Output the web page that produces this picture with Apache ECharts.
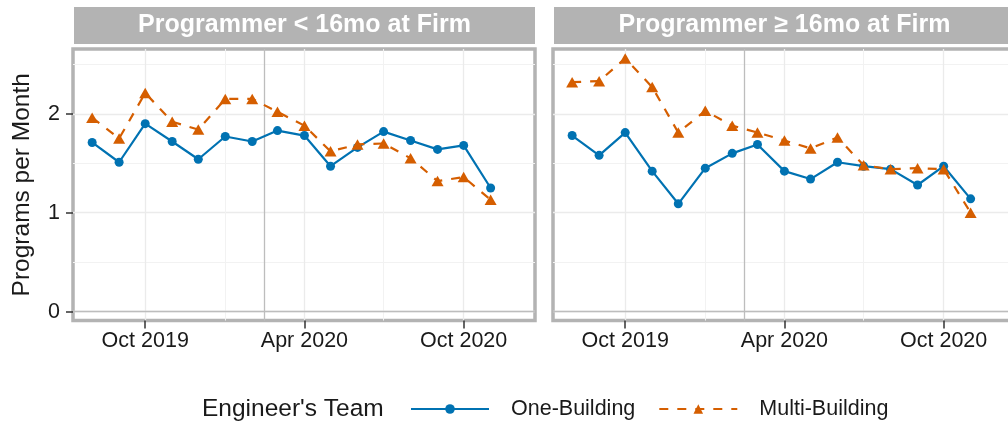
<!DOCTYPE html>
<html>
<head>
<meta charset="utf-8">
<script src="https://cdn.jsdelivr.net/npm/echarts@6/dist/echarts.min.js"></script>
<style>
  html, body { margin: 0; padding: 0; background: #fff; overflow: hidden; }
  /* the right facet runs past the 1008px frame, as in the cropped original */
  #chart { width: 1030px; height: 424px; }
</style>
</head>
<body>
<div id="chart"></div>
<script>
// monthly observations, first of each month
const months = ['2019-08', '2019-09', '2019-10', '2019-11', '2019-12', '2020-01', '2020-02', '2020-03',
                '2020-04', '2020-05', '2020-06', '2020-07', '2020-08', '2020-09', '2020-10', '2020-11'];

const panelTitles = ['Programmer < 16mo at Firm', 'Programmer \u2265 16mo at Firm'];

// Programmer < 16mo
const oneBuildingShort   = [1.71, 1.51, 1.90, 1.72, 1.54, 1.77, 1.72, 1.83, 1.78, 1.47, 1.66, 1.82, 1.73, 1.64, 1.68, 1.25];
const multiBuildingShort = [1.96, 1.75, 2.21, 1.92, 1.84, 2.15, 2.15, 2.02, 1.88, 1.62, 1.69, 1.70, 1.55, 1.32, 1.36, 1.13];
// Programmer >= 16mo
const oneBuildingLong    = [1.78, 1.58, 1.81, 1.42, 1.09, 1.45, 1.60, 1.69, 1.42, 1.34, 1.51, 1.47, 1.44, 1.28, 1.47, 1.14];
const multiBuildingLong  = [2.32, 2.33, 2.56, 2.27, 1.81, 2.03, 1.88, 1.81, 1.73, 1.65, 1.76, 1.48, 1.44, 1.45, 1.44, 1.00];

const xTicks = ['2019-10', '2020-04', '2020-10'];
const xMinorTicks = ['2020-01', '2020-07'];
const yTicks = [0, 1, 2];
const yMinorTicks = [0.5, 1.5, 2.5];
const xRange = ['2019-07-10', '2020-12-22'];
const yRange = [-0.09, 2.655];
const eventDate = '2020-02-15';

const FONT = '"Liberation Sans", Arial, sans-serif';
const BLUE = '#0072B2';
const ORANGE = '#D55E00';
const MONTH_NAMES = ['Jan', 'Feb', 'Mar', 'Apr', 'May', 'Jun', 'Jul', 'Aug', 'Sep', 'Oct', 'Nov', 'Dec'];

const ts = s => {
  const p = s.split('-').map(Number);
  return Date.UTC(p[0], p[1] - 1, p[2] || 1);
};
const fmtMonth = v => {
  const d = new Date(v);
  return MONTH_NAMES[d.getUTCMonth()] + ' ' + d.getUTCFullYear();
};

const chart = echarts.init(document.getElementById('chart'));

const panelLeft = [73, 553];
const grids = panelLeft.map(left => ({
  left: left, top: 49, width: 462, height: 271.5,
  show: true, borderColor: '#B3B3B3', borderWidth: 3.5
}));

const xAxes = [];
const yAxes = [];
panelLeft.forEach((_, i) => {
  // minor gridlines
  xAxes.push({
    type: 'value', gridIndex: i, position: 'bottom', min: ts(xRange[0]), max: ts(xRange[1]),
    axisLine: { show: false, onZero: false },
    axisTick: { show: false, customValues: xMinorTicks.map(ts) },
    axisLabel: { show: false },
    splitLine: { show: true, lineStyle: { color: '#F2F2F2', width: 1 } }
  });
  xAxes.push({
    type: 'value', gridIndex: i, position: 'bottom', min: ts(xRange[0]), max: ts(xRange[1]),
    axisLine: { show: false, onZero: false },
    axisTick: { show: true, customValues: xTicks.map(ts), length: 8, lineStyle: { color: '#333', width: 1.5 } },
    axisLabel: { customValues: xTicks.map(ts), formatter: fmtMonth, margin: 10,
                 fontSize: 21.5, color: '#1a1a1a', fontFamily: FONT },
    splitLine: { show: true, lineStyle: { color: '#EBEBEB', width: 1.3 } }
  });
  yAxes.push({
    type: 'value', gridIndex: i, position: 'left', min: yRange[0], max: yRange[1],
    axisLine: { show: false, onZero: false },
    axisTick: { show: false, customValues: yMinorTicks },
    axisLabel: { show: false },
    splitLine: { show: true, lineStyle: { color: '#F2F2F2', width: 1 } }
  });
  yAxes.push({
    type: 'value', gridIndex: i, position: 'left', min: yRange[0], max: yRange[1],
    axisLine: { show: false, onZero: false },
    axisTick: { show: i === 0, customValues: yTicks, length: 7, lineStyle: { color: '#333', width: 1.5 } },
    axisLabel: { show: i === 0, customValues: yTicks, margin: 13,
                 fontSize: 21.5, color: '#1a1a1a', fontFamily: FONT },
    splitLine: { show: true, lineStyle: { color: '#EBEBEB', width: 1.3 } },
    name: i === 0 ? 'Programs per Month' : '',
    nameLocation: 'middle', nameGap: 38,
    nameTextStyle: { fontSize: 24.5, color: '#1a1a1a', fontFamily: FONT }
  });
});

const refLines = {
  silent: true, symbol: 'none', z: 1,
  label: { show: false },
  lineStyle: { color: '#BDBDBD', width: 1.3, type: 'solid' },
  data: [{ xAxis: ts(eventDate) }, { yAxis: 0 }]
};

const makeSeries = (name, values, panel) => {
  const multi = name === 'Multi-Building';
  return {
    name: name, type: 'line',
    xAxisIndex: panel * 2 + 1, yAxisIndex: panel * 2 + 1,
    data: months.map((m, k) => [ts(m), values[k]]),
    symbol: multi ? 'triangle' : 'circle',
    symbolSize: multi ? [12, 10.5] : 9,
    lineStyle: { color: multi ? ORANGE : BLUE, width: 2.2, type: multi ? [9, 9] : 'solid' },
    itemStyle: { color: multi ? ORANGE : BLUE },
    markLine: multi ? undefined : refLines,
    z: multi ? 3 : 2
  };
};

const graphic = [];
panelLeft.forEach((left, i) => {
  graphic.push({ type: 'rect', shape: { x: left + 1, y: 7, width: 461, height: 37 }, style: { fill: '#B3B3B3' } });
  graphic.push({ type: 'text', x: left + 231.5, y: 25.5,
    style: { text: panelTitles[i], fill: '#fff', fontSize: 25, fontWeight: 'bold', fontFamily: FONT,
             align: 'center', verticalAlign: 'middle' } });
});
graphic.push({ type: 'text', x: 202, y: 409,
  style: { text: "Engineer's Team", fill: '#1a1a1a', fontSize: 24.5, fontFamily: FONT,
           align: 'left', verticalAlign: 'middle' } });

const option = {
  animation: false,
  textStyle: { fontFamily: FONT },
  grid: grids,
  xAxis: xAxes,
  yAxis: yAxes,
  legend: {
    data: ['One-Building', 'Multi-Building'],
    left: 410, top: 398, padding: 0,
    itemWidth: 78, itemHeight: 12, itemGap: 23,
    textStyle: { fontSize: 21.5, color: '#1a1a1a', fontFamily: FONT, padding: [0, 0, 0, 17], lineHeight: 22 }
  },
  graphic: graphic,
  series: [
    makeSeries('One-Building', oneBuildingShort, 0),
    makeSeries('Multi-Building', multiBuildingShort, 0),
    makeSeries('One-Building', oneBuildingLong, 1),
    makeSeries('Multi-Building', multiBuildingLong, 1)
  ]
};

chart.setOption(option);

window.addEventListener('resize', () => {
  chart.resize();
});
</script>
</body>
</html>
